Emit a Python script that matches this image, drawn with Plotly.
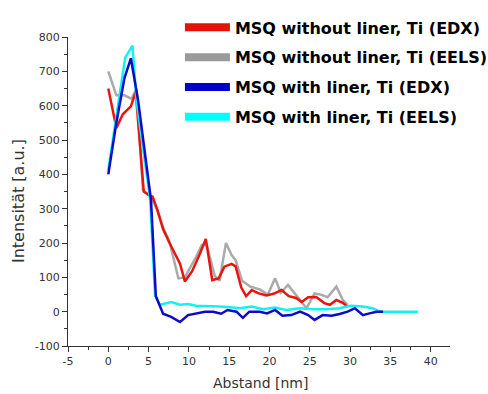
import plotly.graph_objects as go

# ---- data ----
red_x = [0, 1.0, 1.8, 2.8, 3.4, 4.4, 5.0, 5.5, 6.1, 6.8, 7.6, 8.9, 9.5, 10.4, 11.3, 12.1, 12.9,
         13.7, 14.4, 15.3, 15.8, 16.5, 17.1, 17.8, 18.6, 19.6, 20.5, 21.5, 22.4, 23.3, 24.0,
         24.8, 25.8, 26.8, 27.5, 28.3, 29.1, 29.7]
red_y = [650, 535, 575, 598, 640, 350, 340, 335, 296, 240, 200, 140, 88, 118, 165, 212, 92,
         97, 131, 139, 132, 70, 45, 63, 54, 47, 52, 63, 45, 40, 28, 42, 43, 25, 20, 34, 26, 14]

gray_x = [0, 1.0, 2.0, 2.9, 3.5, 4.3, 5.3, 6.0, 6.8, 7.6, 8.7, 9.5, 10.9, 11.6, 12.2, 13.2, 13.8,
          14.6, 15.3, 15.8, 16.6, 17.6, 18.8, 19.8, 20.7, 21.4, 22.3, 23.5, 24.6, 25.6, 26.5,
          27.2, 28.3, 29.1, 29.7]
gray_y = [700, 630, 630, 620, 650, 354, 335, 300, 246, 203, 97, 100, 160, 194, 194, 105, 90,
          200, 165, 150, 90, 73, 65, 50, 97, 55, 78, 43, 10, 53, 49, 42, 73, 34, 20]

blue_x = [0, 1.0, 2.0, 2.8, 3.7, 5.3, 5.9, 6.8, 7.8, 8.9, 9.9, 10.9, 12.0, 13.0, 14.0, 14.8, 15.9,
          16.7, 17.5, 18.8, 19.7, 20.7, 21.6, 22.7, 23.8, 24.8, 25.6, 26.6, 27.7, 28.7, 29.7,
          30.6, 31.6, 32.4, 33.3, 34.1]
blue_y = [400, 550, 680, 738, 615, 325, 45, -6, -15, -30, -10, -6, 0, 0, -6, 5, 0,
          -18, 0, 0, -5, 5, -12, -10, 0, -10, -24, -10, -12, -7, 0, 10, -10, -5, 0, 0]

cyan_x = [0, 1.0, 2.1, 3.0, 3.5, 5.2, 5.8, 6.4, 7.8, 8.9, 9.9, 10.9, 12.0, 13.8, 15.5, 16.3, 17.8,
          19.2, 20.7, 22.1, 23.8, 25.4, 27.1, 28.7, 30.0, 31.6, 32.8, 33.7, 38.4]
cyan_y = [413, 575, 740, 775, 615, 325, 48, 20, 28, 20, 22, 17, 17, 15, 12, 10, 15,
          7, 12, 5, 10, 7, 7, 10, 17, 15, 10, 0, 0]

names = ["MSQ without liner, Ti (EDX)", "MSQ without liner, Ti (EELS)",
         "MSQ with liner, Ti (EDX)", "MSQ with liner, Ti (EELS)"]
plot_colors = ["#e8150f", "#aaaaaa", "#0a0acc", "#12f2f2"]
legend_colors = ["#e5120a", "#9a9a9a", "#0000c8", "#00ffff"]

x_tickvals = [-5, 0, 5, 10, 15, 20, 25, 30, 35, 40]
x_ticktext = ["-5", "0", "5", "10", "15", "20", "25", "30", "35", "40"]
y_tickvals = [-100, 0, 100, 200, 300, 400, 500, 600, 700, 800]
y_ticktext = ["-100", "0", "100", "200", "300", "400", "500", "600", "700", "800"]

series = [(red_x, red_y), (gray_x, gray_y), (blue_x, blue_y), (cyan_x, cyan_y)]
draw_order = [1, 0, 3, 2]

fig = go.Figure()
for i in draw_order:
    sx, sy = series[i]
    fig.add_trace(go.Scatter(x=sx, y=sy, mode="lines", name=names[i], showlegend=False,
                             line=dict(color=plot_colors[i], width=2.5)))

for i in range(4):
    fig.add_trace(go.Scatter(x=[None], y=[None], mode="lines", name=names[i],
                             legendgroup=f"g{i}",
                             line=dict(color=legend_colors[i], width=8)))

axis_common = dict(showline=True, linecolor="#333", linewidth=1, showgrid=False,
                   zeroline=False, ticks="outside", ticklen=5, tickwidth=1, tickcolor="#333",
                   tickfont=dict(family="DejaVu Sans", size=11, color="#333"))

fig.update_xaxes(range=[-5, 42.4], tickmode="array", tickvals=x_tickvals, ticktext=x_ticktext,
                 minor=dict(dtick=2.5, tick0=0, ticks="outside", ticklen=3, tickcolor="#333"),
                 **axis_common)
fig.update_yaxes(range=[-100, 800], tickmode="array", tickvals=y_tickvals, ticktext=y_ticktext,
                 minor=dict(dtick=50, tick0=0, ticks="outside", ticklen=3, tickcolor="#333"),
                 **axis_common)

fig.add_annotation(text="Abstand [nm]", xref="paper", yref="paper", x=0.503, y=-0.12,
                   xanchor="center", yanchor="middle", showarrow=False,
                   font=dict(family="DejaVu Sans", size=14, color="#333"))
fig.add_annotation(text="Intensität [a.u.]", xref="paper", yref="paper", x=-0.131, y=0.469,
                   xanchor="center", yanchor="middle", showarrow=False, textangle=-90,
                   font=dict(family="DejaVu Sans", size=16, color="#333"))

fig.update_layout(
    width=488, height=394,
    margin=dict(l=68, r=38, t=37, b=48, autoexpand=False),
    paper_bgcolor="white", plot_bgcolor="white",
    showlegend=True,
    legend=dict(x=0.293, y=1.086, xanchor="left", yanchor="top",
                bgcolor="rgba(0,0,0,0)", borderwidth=0, itemwidth=45,
                tracegroupgap=6,
                font=dict(family="DejaVu Sans", size=16, color="black", weight="bold")),
)

fig.write_html("out.html", config={"displayModeBar": False},
               post_script="document.body.style.margin='0';document.body.style.overflow='hidden';")
